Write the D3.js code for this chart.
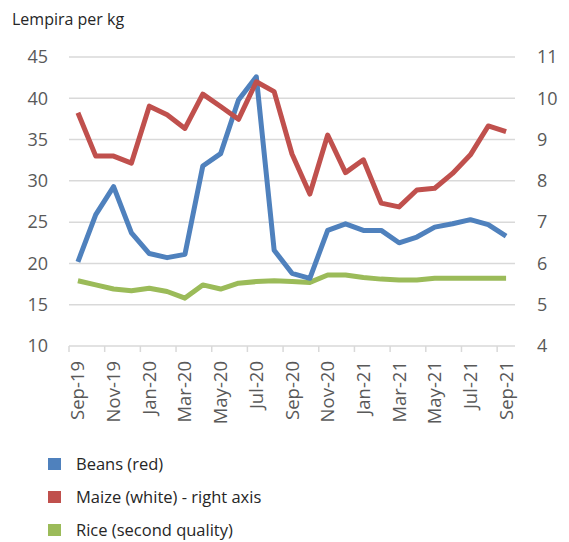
<!DOCTYPE html>
<html>
<head>
<meta charset="utf-8">
<script src="https://cdn.jsdelivr.net/npm/d3@7"></script>
<style>
body { margin: 0; background: #fff; }
text { font-family: "Open Sans", sans-serif; }
</style>
</head>
<body>
<div id="chart"></div>
<script>
var w = 569, h = 542;

var months = ["Sep-19","Oct-19","Nov-19","Dec-19","Jan-20","Feb-20","Mar-20","Apr-20","May-20",
              "Jun-20","Jul-20","Aug-20","Sep-20","Oct-20","Nov-20","Dec-20","Jan-21","Feb-21",
              "Mar-21","Apr-21","May-21","Jun-21","Jul-21","Aug-21","Sep-21"];
var beans = [20.2, 25.9, 29.3, 23.7, 21.2, 20.7, 21.1, 31.8, 33.3, 39.8, 42.6, 21.6, 18.8,
             18.2, 24.0, 24.8, 24.0, 24.0, 22.5, 23.2, 24.4, 24.8, 25.3, 24.7, 23.3];
var maize = [9.65, 8.60, 8.60, 8.43, 9.81, 9.60, 9.27, 10.10, 9.80, 9.49, 10.40, 10.16, 8.65,
             7.68, 9.11, 8.20, 8.51, 7.46, 7.37, 7.78, 7.82, 8.18, 8.63, 9.33, 9.19];
var rice = [17.9, 17.4, 16.9, 16.7, 17.0, 16.6, 15.8, 17.4, 16.9, 17.6, 17.8, 17.9, 17.8,
            17.7, 18.6, 18.6, 18.3, 18.1, 18.0, 18.0, 18.2, 18.2, 18.2, 18.2, 18.2];
var leftTicks = [10, 15, 20, 25, 30, 35, 40, 45];
var rightTicks = [4, 5, 6, 7, 8, 9, 10, 11];
var legendItems = ["Beans (red)", "Maize (white) - right axis", "Rice (second quality)"];
var colors = ["#4f81bd", "#c0504d", "#9bbb59"];

var svg = d3.select("#chart").append("svg")
    .attr("width", w)
    .attr("height", h);

var x = d3.scaleBand()
    .domain(months)
    .range([69, 515])
    .paddingInner(0)
    .paddingOuter(0);
var yL = d3.scaleLinear().domain([10, 45]).range([346, 57]);
var yR = d3.scaleLinear().domain([4, 11]).range([346, 57]);

function cx(m) { return x(m) + x.bandwidth() / 2; }

// title
svg.append("text")
    .attr("x", 12)
    .attr("y", 25)
    .style("font-size", "16px")
    .attr("fill", "#262626")
    .text("Lempira per kg");

// gridlines
svg.append("g")
    .selectAll("line")
    .data(leftTicks)
    .enter()
    .append("line")
    .attr("x1", 69)
    .attr("x2", 515)
    .attr("y1", function(d) { return yL(d); })
    .attr("y2", function(d) { return yL(d); })
    .attr("stroke", "#d9d9d9")
    .attr("stroke-width", 1.5);

function styleTicks(g) {
    g.select(".domain").remove();
    g.selectAll(".tick text")
	.attr("fill", "#595959")
	.style("font-family", "'Open Sans', sans-serif")
	.style("font-size", "18px");
}

// left axis labels
var yAxisL = d3.axisLeft(yL).tickValues(leftTicks).tickSize(0).tickPadding(0);
svg.append("g")
    .attr("transform", "translate(48,0)")
    .call(yAxisL)
    .call(styleTicks);

// right axis labels
var yAxisR = d3.axisRight(yR).tickValues(rightTicks).tickFormat(d3.format("d"))
    .tickSize(0).tickPadding(0);
svg.append("g")
    .attr("transform", "translate(537,0)")
    .call(yAxisR)
    .call(styleTicks);

// x axis tick marks at category boundaries, every 2 months
var tickMonths = months.filter(function(d, i) { return i % 2 == 0; });
svg.append("g")
    .selectAll("line")
    .data(tickMonths)
    .enter()
    .append("line")
    .attr("x1", function(d) { return x(d); })
    .attr("x2", function(d) { return x(d); })
    .attr("y1", 346)
    .attr("y2", 352)
    .attr("stroke", "#d9d9d9")
    .attr("stroke-width", 1.5);

// x labels
svg.append("g")
    .selectAll("text")
    .data(tickMonths)
    .enter()
    .append("text")
    .attr("transform", function(d) { return "translate(" + (cx(d) + 6.5) + ",361) rotate(-90)"; })
    .attr("text-anchor", "end")
    .attr("fill", "#595959")
    .style("font-size", "18.5px")
    .text(function(d) { return d; });

// lines
var lineL = d3.line()
    .x(function(d, i) { return cx(months[i]); })
    .y(function(d) { return yL(d); });
var lineR = d3.line()
    .x(function(d, i) { return cx(months[i]); })
    .y(function(d) { return yR(d); });

svg.append("path")
    .datum(rice)
    .attr("d", lineL)
    .attr("fill", "none")
    .attr("stroke", colors[2])
    .attr("stroke-width", 5)
    .attr("stroke-linejoin", "round");
svg.append("path")
    .datum(beans)
    .attr("d", lineL)
    .attr("fill", "none")
    .attr("stroke", colors[0])
    .attr("stroke-width", 5)
    .attr("stroke-linejoin", "round");
svg.append("path")
    .datum(maize)
    .attr("d", lineR)
    .attr("fill", "none")
    .attr("stroke", colors[1])
    .attr("stroke-width", 5)
    .attr("stroke-linejoin", "round");

// legend
var legend = svg.append("g")
    .selectAll("g")
    .data(legendItems)
    .enter()
    .append("g")
    .attr("transform", function(d, i) { return "translate(48," + (458 + i * 33) + ")"; });
legend.append("rect")
    .attr("width", 13)
    .attr("height", 12)
    .attr("fill", function(d, i) { return colors[i]; });
legend.append("text")
    .attr("x", 28)
    .attr("y", 12)
    .attr("fill", "#262626")
    .style("font-size", "16.5px")
    .text(function(d) { return d; });
</script>
</body>
</html>
